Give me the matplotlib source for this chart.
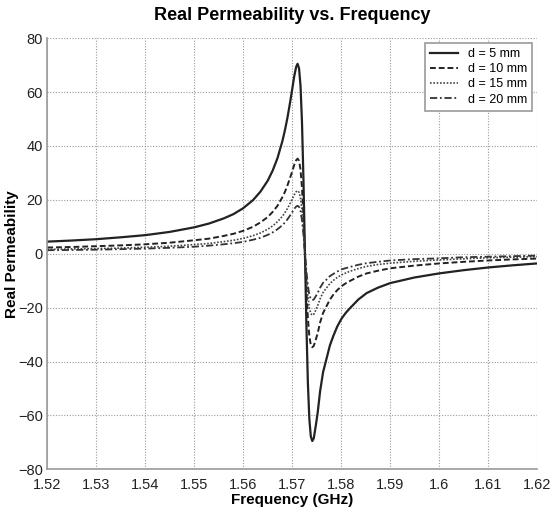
import matplotlib.pyplot as plt

plt.rcParams['font.family'] = ['Liberation Sans', 'DejaVu Sans']

freq = [1.52, 1.525, 1.53, 1.535, 1.54, 1.545, 1.55, 1.553, 1.556, 1.558,
        1.56, 1.562, 1.5635, 1.565, 1.566, 1.567, 1.568, 1.5685, 1.569,
        1.5695, 1.570, 1.5704, 1.5708, 1.5711, 1.5714, 1.5717, 1.572,
        1.5723, 1.5726, 1.5729, 1.5732, 1.5735, 1.5738, 1.5741, 1.5744,
        1.5748, 1.5752, 1.5757, 1.5763, 1.577, 1.5777, 1.5784, 1.5792,
        1.5801, 1.581, 1.5818, 1.5835, 1.5852, 1.5875, 1.59, 1.595, 1.60,
        1.605, 1.61, 1.615, 1.62]

d5 = [4.5, 4.9, 5.4, 6.1, 6.9, 8.1, 9.8, 11.2, 13.1, 14.7,
      16.9, 19.9, 23.0, 27.1, 30.8, 35.5, 41.8, 45.7, 50.2,
      55.4, 61.0, 65.7, 69.3, 70.5, 68.8, 62.3, 48.8,
      27.4, 0.5, -26.4, -47.8, -61.3, -67.8, -69.5, -68.5,
      -64.0, -59.0, -51.0, -44.0, -39.0, -34.0, -30.5, -27.0,
      -24.0, -21.8, -20.2, -17.0, -14.6, -12.6, -10.9, -8.8, -7.3,
      -6.1, -5.1, -4.3, -3.6]
d10 = [2.3, 2.5, 2.8, 3.1, 3.5, 4.1, 5.0, 5.6, 6.6, 7.4,
       8.5, 10.0, 11.6, 13.6, 15.5, 17.8, 21.0, 22.9, 25.2,
       27.8, 30.5, 32.9, 34.7, 35.3, 34.5, 31.2, 24.5,
       13.8, 0.3, -13.2, -23.9, -30.6, -33.9, -34.7, -34.2,
       -32.0, -29.5, -25.5, -22.0, -19.5, -17.0, -15.2, -13.5,
       -12.0, -10.9, -10.1, -8.5, -7.3, -6.3, -5.4, -4.4, -3.6,
       -3.0, -2.5, -2.1, -1.8]
d15 = [1.6, 1.8, 1.9, 2.1, 2.4, 2.8, 3.4, 3.8, 4.5, 5.0,
       5.7, 6.7, 7.7, 9.1, 10.3, 11.9, 13.9, 15.2, 16.7,
       18.4, 20.3, 21.8, 23.0, 23.4, 22.8, 20.7, 16.2,
       9.2, 0.3, -8.6, -15.6, -20.1, -22.2, -22.8, -22.5,
       -21.0, -19.3, -16.7, -14.4, -12.7, -11.1, -9.9, -8.8,
       -7.8, -7.1, -6.5, -5.5, -4.7, -4.0, -3.5, -2.8, -2.3,
       -1.9, -1.5, -1.3, -1.1]
d20 = [1.3, 1.4, 1.5, 1.7, 1.9, 2.2, 2.6, 3.0, 3.5, 3.9,
       4.4, 5.2, 5.9, 7.0, 7.9, 9.1, 10.6, 11.6, 12.7,
       14.0, 15.4, 16.6, 17.5, 17.8, 17.4, 15.8, 12.4,
       7.0, 0.3, -6.4, -11.8, -15.2, -16.8, -17.2, -17.0,
       -15.8, -14.6, -12.6, -10.8, -9.6, -8.3, -7.5, -6.6,
       -5.8, -5.3, -4.9, -4.1, -3.5, -3.0, -2.5, -2.0, -1.7,
       -1.3, -1.1, -0.9, -0.7]

xticks = [1.52, 1.53, 1.54, 1.55, 1.56, 1.57, 1.58, 1.59, 1.6, 1.61, 1.62]
xticklabels = ['1.52', '1.53', '1.54', '1.55', '1.56', '1.57', '1.58',
               '1.59', '1.6', '1.61', '1.62']
yticks = [-80, -60, -40, -20, 0, 20, 40, 60, 80]

fig = plt.figure(figsize=(5.51, 5.09), dpi=100)
ax = fig.add_axes([0.0858, 0.078, 0.889, 0.847])

ax.plot(freq, d5, color='#222222', linestyle='-', linewidth=1.6, label='d = 5 mm')
ax.plot(freq, d10, color='#222222', linestyle=(0, (3, 1.5)), linewidth=1.4, label='d = 10 mm')
ax.plot(freq, d15, color='#444444', linestyle=(0, (1, 1)), linewidth=1.2, label='d = 15 mm')
ax.plot(freq, d20, color='#333333', linestyle=(0, (4, 1.5, 1, 1.5)), linewidth=1.3, label='d = 20 mm')

ax.set_xlim(1.52, 1.62)
ax.set_ylim(-80, 80)
ax.set_xticks(xticks)
ax.set_xticklabels(xticklabels)
ax.set_yticks(yticks)
ax.tick_params(length=0, labelsize=10.5, colors='#222222')
ax.tick_params(axis='x', pad=6)
ax.tick_params(axis='y', pad=3)
ax.grid(True, color='#999999', linestyle=(0, (1, 1.5)), linewidth=0.8)
for side in ['top', 'right']:
    ax.spines[side].set_visible(False)
for side in ['left', 'bottom']:
    ax.spines[side].set_color('#999999')
    ax.spines[side].set_linewidth(1.2)

ax.set_title('Real Permeability vs. Frequency', fontsize=13, fontweight='bold', pad=13)
ax.set_xlabel('Frequency (GHz)', fontsize=11, fontweight='bold', labelpad=1)
ax.set_ylabel('Real Permeability', fontsize=11, fontweight='bold')
ax.yaxis.set_label_coords(-0.058, 0.5)

leg = ax.legend(loc='upper right', fontsize=9, fancybox=False, framealpha=1,
                edgecolor='#999999', handlelength=2.2, borderaxespad=0.4,
                labelspacing=0.25)
leg.get_frame().set_linewidth(1.2)

fig.savefig('out.png', dpi=100)
